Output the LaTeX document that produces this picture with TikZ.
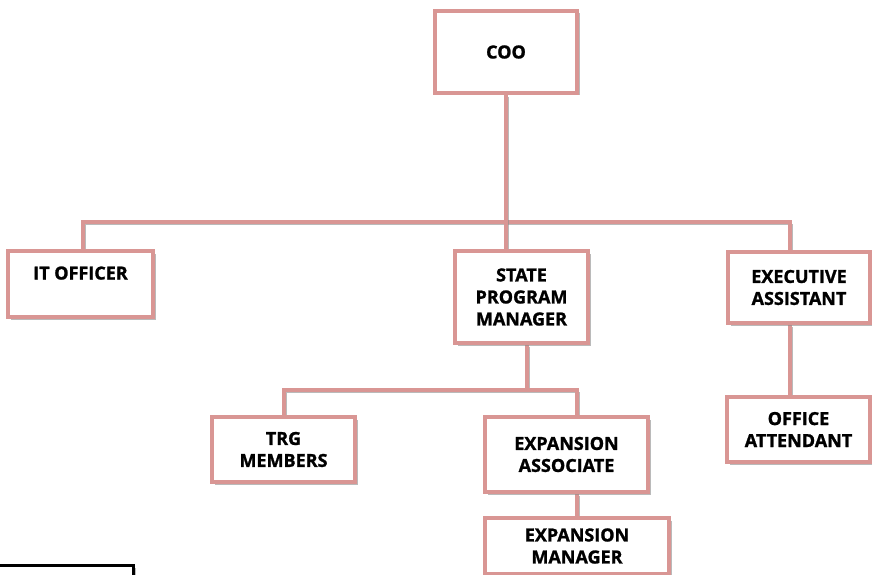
\documentclass[tikz,border=0pt]{standalone}
\usepackage{fontspec}
\setmainfont{Open Sans}[BoldFeatures={FakeBold=1.3}]
\usetikzlibrary{shadows,backgrounds}
\definecolor{rose}{HTML}{D99694}
\definecolor{shade}{HTML}{8C8C8C}
\tikzset{
  box/.style={draw=rose, line width=4.5pt, fill=white, align=center, inner sep=0pt,
    font=\bfseries\fontsize{18}{22}\selectfont,
    drop shadow={shadow xshift=2.5pt, shadow yshift=-2.5pt, opacity=0.6, fill=shade}},
  link/.style={draw=rose, line width=4.5pt,
    preaction={draw=shade, opacity=0.6, transform canvas={shift={(2.2pt,-2.2pt)}}}},
  frame/.style={draw=black, line width=3pt, fill=white,
    drop shadow={shadow xshift=2.5pt, shadow yshift=-2.5pt, opacity=0.6, fill=shade}}
}

\begin{document}
\begin{tikzpicture}[x=1pt, y=-1pt]
  \useasboundingbox (0,0) rectangle (872,575);
  \clip (0,0) rectangle (872,575);

  \node[box, minimum width=142, minimum height=82] (coo) at (506,52) {COO};

  \node[box, minimum width=145, minimum height=66] (it)  at (80.5,284) {IT OFFICER\\~};
  \node[box, minimum width=133, minimum height=92] (spm) at (521.5,297) {STATE\\PROGRAM\\MANAGER};
  \node[box, minimum width=142, minimum height=71] (ea)  at (799,287.5) {EXECUTIVE\\ASSISTANT};

  \node[box, minimum width=143, minimum height=65] (trg) at (283.5,449.5) {TRG\\MEMBERS};
  \node[box, minimum width=163, minimum height=75] (xa)  at (566.5,454.5) {EXPANSION\\ASSOCIATE};
  \node[box, minimum width=184, minimum height=56] (xm)  at (577,546) {EXPANSION\\MANAGER};
  \node[box, minimum width=143, minimum height=65] (oa)  at (798.5,429.5) {OFFICE\\ATTENDANT};

  \coordinate (busL) at (83,222);
  \coordinate (busR) at (790,222);
  \coordinate (subL) at (284,390);
  \coordinate (subR) at (577,390);

  \begin{scope}[on background layer]
    % top level
    \draw[link] (it.north -| busL) -- (busL) -- (busR) -- (ea.north -| busR);
    \draw[link] (coo.south) -- (spm.north -| coo.south);
    % under state program manager
    \draw[link] (spm.south -| 527,0) -- (527,390);
    \draw[link] (trg.north -| subL) -- (subL) -- (subR) -- (xa.north -| subR);
    \draw[link] (xa.south -| subR) -- (xm.north -| subR);
    % under executive assistant
    \draw[link] (ea.south -| busR) -- (oa.north -| busR);
  \end{scope}

  \draw[frame] (-10,565) rectangle (133,600);
\end{tikzpicture}
\end{document}
